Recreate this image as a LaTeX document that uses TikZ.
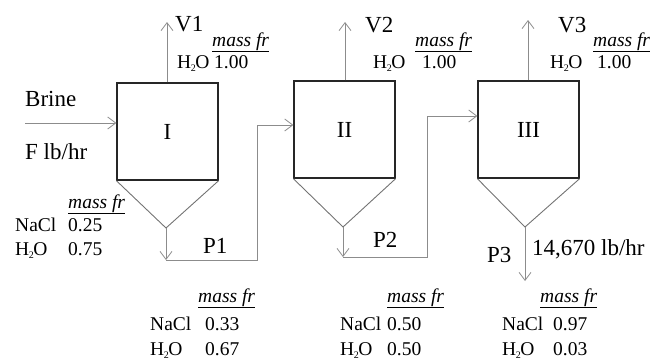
\documentclass[tikz,border=0pt]{standalone}
\usepackage{fontspec}
\setmainfont{Liberation Serif}
\usetikzlibrary{arrows.meta}
\tikzset{
  unit/.style={draw=black!85, line width=1.3pt, minimum width=101pt, minimum height=97pt, inner sep=0pt, font=\fontsize{23}{26}\selectfont},
  cone/.style={draw=black!55, line width=0.9pt},
  flow/.style={draw=black!45, line width=0.9pt},
  tip/.style={-{Straight Barb[length=8pt,width=12pt,line width=0.8pt]}},
  big/.style={anchor=base west, inner sep=0pt, font=\fontsize{23}{26}\selectfont},
  tab/.style={anchor=base west, inner sep=0pt, font=\fontsize{19.5}{22}\selectfont},
  mf/.style={anchor=base west, inner sep=0pt, font=\fontsize{19.5}{22}\selectfont\itshape}
}
\newcommand{\mfr}{\underline{mass fr}}
\newcommand{\water}{H\kern-0.5pt\raisebox{-0.35ex}{\fontsize{10}{10}\selectfont 2}\kern-0.5pt O}
\begin{document}
\begin{tikzpicture}[x=1pt,y=-1pt]
\useasboundingbox (0,0) rectangle (654,362);
% units
\node[unit] (u1) at (167.5,131.5) {I};
\node[unit] (u2) at (344.5,129.5) {II};
\node[unit] (u3) at (528.5,129.5) {III};
% cones
\coordinate (a1) at (166,228);
\coordinate (a2) at (343,227);
\coordinate (a3) at (525,227);
\draw[cone] (u1.south west) -- (a1) -- (u1.south east);
\draw[cone] (u2.south west) -- (a2) -- (u2.south east);
\draw[cone] (u3.south west) -- (a3) -- (u3.south east);
% vapour
\coordinate (v1) at (167,22);
\coordinate (v2) at (345,22);
\coordinate (v3) at (528,20);
\draw[flow,tip] (u1.north -| v1) -- (v1);
\draw[flow,tip] (u2.north -| v2) -- (v2);
\draw[flow,tip] (u3.north -| v3) -- (v3);
% feed
\coordinate (f0) at (25,123);
\draw[flow,tip] (f0) -- (f0 -| u1.west);
% P1
\coordinate (c1) at (166,260);
\coordinate (k1) at (257,125);
\draw[flow,tip] (a1) -- (c1);
\draw[flow] (c1) -- (c1 -| k1) -- (k1);
\draw[flow,tip] (k1) -- (k1 -| u2.west);
% P2
\coordinate (c2) at (343,257);
\coordinate (k2) at (427,116);
\draw[flow,tip] (a2) -- (c2);
\draw[flow] (c2) -- (c2 -| k2) -- (k2);
\draw[flow,tip] (k2) -- (k2 -| u3.west);
% P3
\coordinate (c3) at (525,281);
\draw[flow,tip] (a3) -- (c3);
% labels
\node[big] (lv1) at (175,31) {V1};
\node[big] (lv2) at (365,32) {V2};
\node[big] (lv3) at (558,32) {V3};
\node[mf] (m1) at (212,46) {\mfr};
\node[tab] (h1) at (177,68) {\water};
\node[tab] (h1v) at (214,68) {1.00};
\node[mf] (m2) at (415,46) {\mfr};
\node[tab] (h2) at (373,68) {\water};
\node[tab] (h2v) at (422,68) {1.00};
\node[mf] (m3) at (593,46) {\mfr};
\node[tab] (h3) at (550,68) {\water};
\node[tab] (h3v) at (597,68) {1.00};
\node[big] (brine) at (25,106) {Brine};
\node[big] (flb) at (25,159) {F lb/hr};
\node[mf] (mf0) at (68,208) {\mfr};
\node[tab] (n0) at (15,231) {NaCl};
\node[tab] (n0v) at (68,231) {0.25};
\node[tab] (w0) at (15,255) {\water};
\node[tab] (w0v) at (68,255) {0.75};
\node[big] (p1) at (203,253) {P1};
\node[big] (p2) at (373,247) {P2};
\node[big] (p3) at (487,262) {P3};
\node[big] (prate) at (532,255) {14,670 lb/hr};
% bottom tables
\node[mf] (mb1) at (198,302) {\mfr};
\node[tab] (nb1) at (150,330) {NaCl};
\node[tab] (nb1v) at (205,330) {0.33};
\node[tab] (wb1) at (150,355) {\water};
\node[tab] (wb1v) at (205,355) {0.67};
\node[mf] (mb2) at (387,302) {\mfr};
\node[tab] (nb2) at (340,330) {NaCl};
\node[tab] (nb2v) at (387,330) {0.50};
\node[tab] (wb2) at (340,355) {\water};
\node[tab] (wb2v) at (387,355) {0.50};
\node[mf] (mb3) at (540,302) {\mfr};
\node[tab] (nb3) at (502,330) {NaCl};
\node[tab] (nb3v) at (553,330) {0.97};
\node[tab] (wb3) at (502,355) {\water};
\node[tab] (wb3v) at (553,355) {0.03};
\end{tikzpicture}
\end{document}
